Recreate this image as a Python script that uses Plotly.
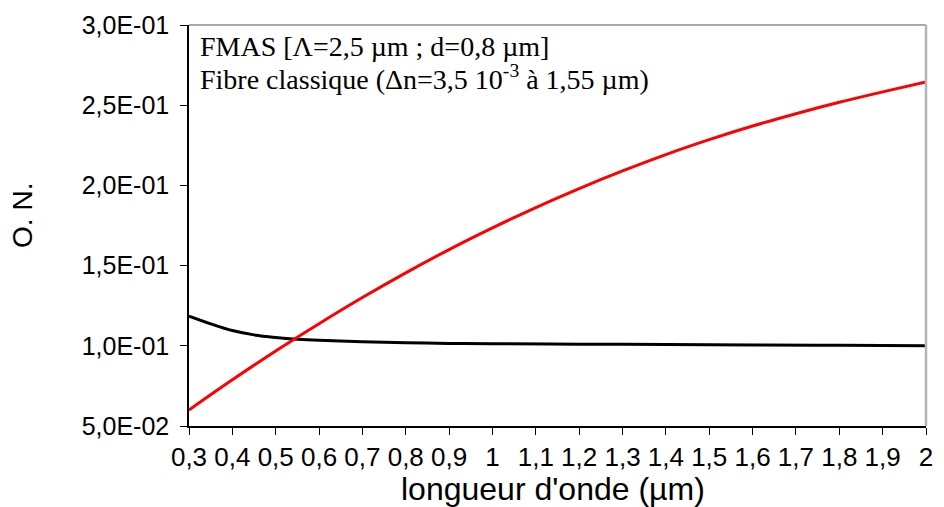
import plotly.graph_objects as go

# Wavelength grid (µm)
wavelength_fmas = [0.30, 0.35, 0.40, 0.45, 0.50, 0.55, 0.60, 0.70, 0.80, 0.90, 1.00,
                   1.20, 1.40, 1.60, 1.80, 2.00]
na_fmas = [0.1185, 0.1137, 0.1095, 0.1068, 0.1052, 0.1041, 0.1034, 0.1025, 0.1019,
           0.1015, 0.1013, 0.1010, 0.1008, 0.1005, 0.1003, 0.1001]

wavelength_classic = [0.3, 0.4, 0.5, 0.6, 0.7, 0.8, 0.9, 1.0, 1.1, 1.2, 1.3, 1.4,
                      1.5, 1.6, 1.7, 1.8, 1.9, 2.0]
na_classic = [0.0600, 0.0788, 0.0968, 0.1138, 0.1301, 0.1455, 0.1600, 0.1735, 0.1862,
              0.1980, 0.2090, 0.2192, 0.2285, 0.2370, 0.2447, 0.2518, 0.2583, 0.2645]

x_tickvals = [0.3, 0.4, 0.5, 0.6, 0.7, 0.8, 0.9, 1.0, 1.1, 1.2, 1.3, 1.4, 1.5, 1.6,
              1.7, 1.8, 1.9, 2.0]
x_ticktext = ["0,3", "0,4", "0,5", "0,6", "0,7", "0,8", "0,9", "1", "1,1", "1,2",
              "1,3", "1,4", "1,5", "1,6", "1,7", "1,8", "1,9", "2"]
y_tickvals = [0.05, 0.10, 0.15, 0.20, 0.25, 0.30]
y_ticktext = ["5,0E-02", "1,0E-01", "1,5E-01", "2,0E-01", "2,5E-01", "3,0E-01"]

legend_lines = ["FMAS [Λ=2,5 µm ; d=0,8 µm]",
                "Fibre classique (Δn=3,5 10<sup>-3</sup> à 1,55 µm)"]

fig = go.Figure()
fig.add_trace(go.Scatter(x=wavelength_fmas, y=na_fmas, mode="lines",
                         line=dict(color="black", width=3, shape="spline"),
                         name=legend_lines[0]))
fig.add_trace(go.Scatter(x=wavelength_classic, y=na_classic, mode="lines",
                         line=dict(color="#ff0000", width=3, shape="spline"),
                         name=legend_lines[1]))

sans = "Liberation Sans, Arial, sans-serif"
serif = "Liberation Serif, Times New Roman, serif"

fig.update_layout(
    width=944, height=507,
    margin=dict(l=189, r=11, t=20, b=81),
    paper_bgcolor="white", plot_bgcolor="white",
    showlegend=False,
    xaxis=dict(range=[0.3, 2.0], tickvals=x_tickvals, ticktext=x_ticktext,
               ticks="outside", ticklen=7, tickwidth=1, tickcolor="black",
               showline=True, linecolor="black", linewidth=1.5,
               showgrid=False, zeroline=False, tickangle=0,
               tickfont=dict(family=sans, size=26, color="black")),
    yaxis=dict(range=[0.05, 0.30], tickvals=y_tickvals, ticktext=y_ticktext,
               ticks="outside", ticklen=7, tickwidth=1, tickcolor="black",
               showline=True, linecolor="black", linewidth=1.5,
               showgrid=False, zeroline=False,
               tickfont=dict(family=sans, size=25, color="black"),
               ticklabelstandoff=6),
)

# Grey frame on the top and right sides
fig.add_shape(type="line", xref="paper", yref="paper", x0=0, x1=1, y0=1, y1=1,
              line=dict(color="#8c8c8c", width=1.5))
fig.add_shape(type="line", xref="paper", yref="paper", x0=1, x1=1, y0=0, y1=1,
              line=dict(color="#b4b4b4", width=2.5))

# Axis titles
fig.add_annotation(text="O. N.", xref="paper", yref="paper", x=-0.226, y=0.525,
                   showarrow=False, textangle=-90, xanchor="center", yanchor="middle",
                   font=dict(family=sans, size=28, color="black"))
fig.add_annotation(text="longueur d'onde (µm)", xref="paper", yref="paper",
                   x=(556 - 189) / 744, y=-(490 - 426) / 406, showarrow=False,
                   xanchor="center", yanchor="middle",
                   font=dict(family=sans, size=32, color="black"))

# Legend text block
for i, txt in enumerate(legend_lines):
    fig.add_annotation(text=txt, xref="paper", yref="paper",
                       x=(198 - 189) / 744, y=1 - (22 + 31 * i) / 406,
                       showarrow=False, xanchor="left", yanchor="middle",
                       font=dict(family=serif, size=28, color="black"))

fig.write_html("out.html")
